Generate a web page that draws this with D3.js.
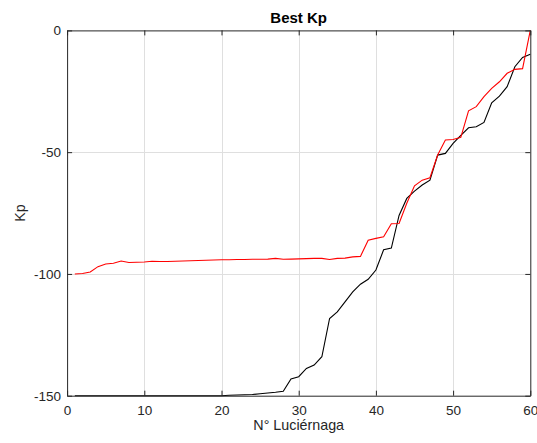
<!DOCTYPE html>
<html>
<head>
<meta charset="utf-8">
<script src="https://d3js.org/d3.v7.min.js"></script>
<style>
  html, body { margin: 0; padding: 0; background: #fff; }
  svg { display: block; font-family: Arial, "Liberation Sans", Helvetica, sans-serif; }
</style>
</head>
<body>
<svg id="chart" width="537" height="443"></svg>
<script>
const title = "Best Kp";
const xLabel = "N° Luciérnaga";
const yLabel = "Kp";
const xTicks = [0, 10, 20, 30, 40, 50, 60];
const yTicks = [-150, -100, -50, 0];
const xIndex = d3.range(1, 61);
const redSeries = [
  -100, -99.8, -99.2, -97.0, -95.9, -95.6, -94.7, -95.3, -95.2, -95.1,
  -94.8, -94.9, -94.9, -94.8, -94.7, -94.6, -94.5, -94.4, -94.3, -94.2,
  -94.2, -94.1, -94.1, -94.0, -94.0, -93.9, -93.6, -94.0, -93.9, -93.8,
  -93.7, -93.6, -93.6, -94.1, -93.6, -93.5, -93.0, -92.8, -86.2, -85.4,
  -84.7, -79.4, -79.3, -71.0, -63.8, -61.5, -60.5, -51.2, -45.0, -44.8,
  -43.9, -33.0, -31.3, -27.2, -23.8, -21.1, -17.6, -16.0, -15.7, 0
];
const blackSeries = [
  -150, -150, -150, -150, -150, -150, -150, -150, -150, -150,
  -150, -150, -150, -150, -150, -150, -150, -150, -150, -150,
  -149.8, -149.7, -149.6, -149.5, -149.2, -148.9, -148.6, -148.2, -143.1, -142.2,
  -138.8, -137.4, -134.0, -118.3, -115.6, -111.5, -107.4, -104.2, -102.2, -98.4,
  -90.1, -89.4, -76.0, -69.0, -66.0, -63.5, -61.5, -51.2, -50.5, -46.4,
  -43.1, -40.0, -39.6, -37.8, -29.7, -27.0, -23.1, -14.9, -11.1, -9.8
];

const svg = d3.select("#chart");
const L = 67.1, R = 530.3, T = 30.4, B = 395.7;
const x = d3.scaleLinear().domain([0, 60]).range([L, R]);
const y = d3.scaleLinear().domain([-150, 0]).range([B, T]);
const axisColor = "#262626";
const tickLen = 5;
const fmt = d => String(d);

// grid
const grid = svg.append("g");
grid.selectAll("line.gx").data(xTicks.filter(d => d > 0 && d < 60)).enter().append("line")
  .attr("x1", d => Math.round(x(d)) + 0.5).attr("x2", d => Math.round(x(d)) + 0.5)
  .attr("y1", T).attr("y2", B)
  .attr("stroke", "#dfdfdf").attr("stroke-width", 1);
grid.selectAll("line.gy").data(yTicks.filter(d => d > -150 && d < 0)).enter().append("line")
  .attr("y1", d => Math.round(y(d)) + 0.5).attr("y2", d => Math.round(y(d)) + 0.5)
  .attr("x1", L).attr("x2", R)
  .attr("stroke", "#dfdfdf").attr("stroke-width", 1);

// lines
const line = d3.line().x((d, i) => x(xIndex[i])).y(d => y(d));
svg.append("path").datum(blackSeries).attr("d", line)
  .attr("fill", "none").attr("stroke", "#000").attr("stroke-width", 1.1);
svg.append("path").datum(redSeries).attr("d", line)
  .attr("fill", "none").attr("stroke", "#ff0000").attr("stroke-width", 1.1);

// axes (inward ticks) using d3 axis
const xAxisB = d3.axisBottom(x).tickValues(xTicks).tickFormat(fmt).tickSizeInner(-tickLen).tickSizeOuter(0).tickPadding(9.5);
const xAxisT = d3.axisTop(x).tickValues(xTicks).tickSizeInner(-tickLen).tickSizeOuter(0).tickFormat("");
const yAxisL = d3.axisLeft(y).tickValues(yTicks).tickFormat(fmt).tickSizeInner(-tickLen).tickSizeOuter(0).tickPadding(6);
const yAxisR = d3.axisRight(y).tickValues(yTicks).tickSizeInner(-tickLen).tickSizeOuter(0).tickFormat("");

function style(g) {
  g.selectAll("path.domain").attr("stroke", axisColor).attr("stroke-width", 1);
  g.selectAll(".tick line").attr("stroke", axisColor).attr("stroke-width", 1);
  g.selectAll(".tick text").attr("fill", axisColor).attr("font-size", 13.5)
    .attr("font-family", "Arial, 'Liberation Sans', sans-serif");
}
svg.append("g").attr("transform", `translate(0,${B})`).call(xAxisB).call(style);
svg.append("g").attr("transform", `translate(0,${T})`).call(xAxisT).call(style);
svg.append("g").attr("transform", `translate(${L},0)`).call(yAxisL).call(style);
svg.append("g").attr("transform", `translate(${R},0)`).call(yAxisR).call(style);

// labels
svg.append("text").attr("x", (L + R) / 2).attr("y", 23)
  .attr("text-anchor", "middle").attr("font-weight", "bold").attr("font-size", 15)
  .attr("fill", "#000").text(title);
svg.append("text").attr("x", (L + R) / 2).attr("y", 429.5)
  .attr("text-anchor", "middle").attr("font-size", 14.3)
  .attr("fill", axisColor).text(xLabel);
svg.append("text").attr("transform", `translate(24.5,${(T + B) / 2}) rotate(-90)`)
  .attr("text-anchor", "middle").attr("font-size", 14.3)
  .attr("fill", axisColor).text(yLabel);
</script>
</body>
</html>
